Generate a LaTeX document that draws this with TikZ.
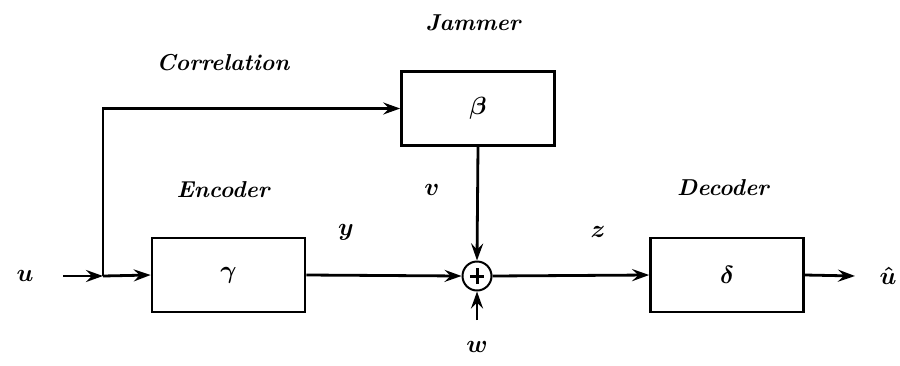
\documentclass[tikz,border=0pt]{standalone}
\usetikzlibrary{arrows.meta}
\begin{document}
\begin{tikzpicture}[x=1pt,y=-1pt,
  every node/.style={font=\fontsize{23}{27}\selectfont\boldmath},
  blk/.style={draw,line width=2.6pt,minimum width=153pt,minimum height=74pt,inner sep=0pt},
  sumc/.style={draw,circle,line width=2pt,minimum size=29pt,inner sep=0pt},
  conn/.style={line width=2.8pt},
  arr/.style={conn,-{Stealth[length=17pt,width=12pt,inset=6pt]}},
  lbl/.style={font=\fontsize{23}{27}\selectfont\itshape\bfseries}]
\useasboundingbox (0,0) rectangle (900,365);
% blocks
\node[blk] (enc) at (228.5,275) {$\gamma$};
\node[blk] (jam) at (478,108.5) {$\beta$};
\node[blk] (dec) at (727,275) {$\delta$};
\node[sumc] (sum) at (477,276) {};
% plus sign
\draw[line width=3pt] ([xshift=-7pt]sum.center) -- ([xshift=7pt]sum.center);
\draw[line width=3pt] ([yshift=-8pt]sum.center) -- ([yshift=8pt]sum.center);
% coordinates
\coordinate (uin) at (63,276);
\coordinate (j) at (103,276);
\coordinate (wst) at (477,320);
\coordinate (uout) at (855,276);
% labels
\node (lu) at (25,276) {$u$};
\node (luh) at (888,276) {$\hat{u}$};
\node (ly) at (346,232) {$y$};
\node (lz) at (598,232) {$z$};
\node (lv) at (432,190) {$v$};
\node (lw) at (477,347) {$w$};
\node[lbl] (ljam) at (473,23) {Jammer};
\node[lbl] (lcor) at (223,63) {Correlation};
\node[lbl] (lenc) at (223,190) {Encoder};
\node[lbl] (ldec) at (723,188) {Decoder};
% connectors
\draw[arr] (uin) -- (j);
\draw[arr] (j) -- (enc.west);
\draw[arr] (j) |- (jam.west);
\draw[arr] (enc.east) -- (sum.west);
\draw[arr] (jam.south) -- (sum.north);
\draw[arr] (wst) -- (sum.south);
\draw[arr] (sum.east) -- (dec.west);
\draw[arr] (dec.east) -- (uout);
\end{tikzpicture}
\end{document}
